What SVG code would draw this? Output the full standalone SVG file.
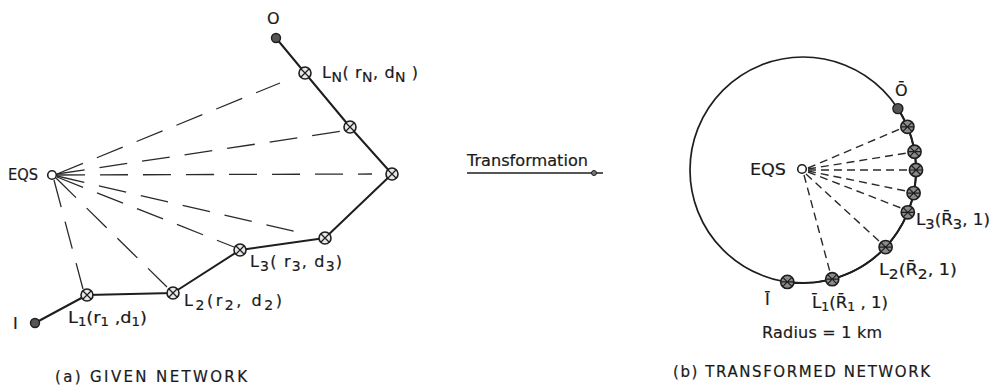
<svg xmlns="http://www.w3.org/2000/svg" width="992" height="386" viewBox="0 0 992 386">
  <style>
    text { font-family: "DejaVu Sans", "Liberation Sans", sans-serif; fill: #1a1a1a; stroke: #1a1a1a; stroke-width: 0.2; }
    .lbl { font-size: 16px; }
    .cap { font-size: 15px; }
    .net { fill: none; stroke: #1e1e1e; stroke-width: 2; stroke-linejoin: round; }
    .ray { fill: none; stroke: #2a2a2a; stroke-width: 1.3; stroke-dasharray: 28 15; }
    .rayb { fill: none; stroke: #2a2a2a; stroke-width: 1.4; stroke-dasharray: 8 5; }
    .circ { fill: none; stroke: #1e1e1e; stroke-width: 1.7; }
    .eqs { fill: #fff; stroke: #1e1e1e; stroke-width: 1.6; }
    .term { fill: #555; stroke: #1e1e1e; stroke-width: 1.4; }
    .x { stroke: #1e1e1e; stroke-width: 1.2; }
  </style>
  <defs>
    <g id="loc">
      <circle r="6" fill="#e8e8e8" stroke="#1e1e1e" stroke-width="1.6"/>
      <path class="x" d="M-4,-4 L4,4 M-4,4 L4,-4"/>
    </g>
    <g id="locb">
      <circle r="6.6" fill="#8a8a8a" stroke="#1e1e1e" stroke-width="1.6"/>
      <path class="x" d="M-4.5,-4.5 L4.5,4.5 M-4.5,4.5 L4.5,-4.5 M-6,0 L6,0"/>
    </g>
  </defs>

  <!-- ===== (a) given network ===== -->
  <g id="rays-a">
    <line class="ray" x1="57" y1="174" x2="280" y2="83"/>
    <line class="ray" x1="57" y1="174" x2="343" y2="131"/>
    <line class="ray" x1="57" y1="175" x2="372" y2="174"/>
    <line class="ray" x1="57" y1="176" x2="297" y2="232"/>
    <line class="ray" x1="57" y1="177" x2="234" y2="247"/>
    <line class="ray" x1="56" y1="178" x2="167" y2="287"/>
    <line class="ray" x1="54" y1="180" x2="83" y2="289"/>
  </g>
  <g id="links-a">
    <polyline class="net" points="35,323 87,295 173,293 240,250 325,238 392,174 350,127 305,73 276,38"/>
  </g>

  <g id="node-I">
    <circle class="term" cx="35" cy="323" r="4.5"/>
    <text class="lbl" x="13" y="329">I</text>
  </g>
  <g id="node-L1">
    <use href="#loc" x="87" y="295"/>
    <text class="lbl" x="68" y="323" textLength="79" lengthAdjust="spacingAndGlyphs">L<tspan dy="3" font-size="12">1</tspan><tspan dy="-3">(r</tspan><tspan dy="3" font-size="12">1</tspan><tspan dy="-3"> ,d</tspan><tspan dy="3" font-size="12">1</tspan><tspan dy="-3">)</tspan></text>
  </g>
  <g id="node-L2">
    <use href="#loc" x="173" y="293"/>
    <text class="lbl" x="184" y="306" textLength="98" lengthAdjust="spacing">L<tspan dy="4" font-size="14">2</tspan><tspan dy="-4">(r</tspan><tspan dy="4" font-size="14">2</tspan><tspan dy="-4">, d</tspan><tspan dy="4" font-size="14">2</tspan><tspan dy="-4">)</tspan></text>
  </g>
  <g id="node-L3">
    <use href="#loc" x="240" y="250"/>
    <text class="lbl" x="250" y="267" textLength="92" lengthAdjust="spacing">L<tspan dy="4" font-size="14">3</tspan><tspan dy="-4">( r</tspan><tspan dy="4" font-size="14">3</tspan><tspan dy="-4">, d</tspan><tspan dy="4" font-size="14">3</tspan><tspan dy="-4">)</tspan></text>
  </g>
  <g id="node-L4">
    <use href="#loc" x="325" y="238"/>
  </g>
  <g id="node-L5">
    <use href="#loc" x="392" y="174"/>
  </g>
  <g id="node-L6">
    <use href="#loc" x="350" y="127"/>
  </g>
  <g id="node-LN">
    <use href="#loc" x="305" y="73"/>
    <text class="lbl" x="322" y="78" textLength="96" lengthAdjust="spacing">L<tspan dy="4" font-size="14">N</tspan><tspan dy="-4">( r</tspan><tspan dy="4" font-size="14">N</tspan><tspan dy="-4">, d</tspan><tspan dy="4" font-size="14">N</tspan><tspan dy="-4"> )</tspan></text>
  </g>
  <g id="node-O">
    <circle class="term" cx="276" cy="38" r="4.5"/>
    <text class="lbl" x="267" y="24">O</text>
  </g>
  <g id="node-EQS-a">
    <circle class="eqs" cx="52" cy="175" r="4.3"/>
    <text class="lbl" x="8" y="180" textLength="30" lengthAdjust="spacingAndGlyphs">EQS</text>
  </g>
  <text class="cap" x="55" y="382" textLength="192" lengthAdjust="spacing">(a) GIVEN  NETWORK</text>

  <!-- ===== transformation arrow ===== -->
  <g id="transform">
    <text class="lbl" x="467" y="166" textLength="121" lengthAdjust="spacingAndGlyphs">Transformation</text>
    <line x1="467" y1="173" x2="603" y2="173" stroke="#1e1e1e" stroke-width="1.6"/>
    <circle cx="594" cy="173" r="2.5" fill="#777" stroke="#1e1e1e" stroke-width="1"/>
  </g>

  <!-- ===== (b) transformed network: unit circle, radius 113 ===== -->
  <g id="circle-b">
    <circle class="circ" cx="803" cy="170" r="113"/>
  </g>
  <g id="rays-b">
    <line class="rayb" x1="808" y1="168" x2="900" y2="129"/>
    <line class="rayb" x1="808" y1="169" x2="907" y2="153"/>
    <line class="rayb" x1="808" y1="170" x2="908" y2="170"/>
    <line class="rayb" x1="808" y1="171" x2="906" y2="191"/>
    <line class="rayb" x1="808" y1="172" x2="901" y2="208"/>
    <line class="rayb" x1="806" y1="174" x2="879" y2="241"/>
    <line class="rayb" x1="804" y1="175" x2="830" y2="272"/>
  </g>
  <g id="links-b">
    <path class="net" d="M787.3,281.9 A113,113 0 0 0 897.9,108.6"/>
  </g>

  <g id="node-Ib">
    <use href="#locb" x="787.3" y="281.9"/>
    <text class="lbl" x="765" y="305">Ī</text>
  </g>
  <g id="node-L1b">
    <use href="#locb" x="832.2" y="279.2"/>
    <text class="lbl" x="812" y="308" textLength="76" lengthAdjust="spacingAndGlyphs">L̄<tspan dy="3" font-size="12">1</tspan><tspan dy="-3">(R̄</tspan><tspan dy="3" font-size="12">1</tspan><tspan dy="-3"> , 1)</tspan></text>
  </g>
  <g id="node-L2b">
    <use href="#locb" x="885.6" y="247.1"/>
    <text class="lbl" x="879" y="275" textLength="78" lengthAdjust="spacingAndGlyphs">L<tspan dy="4" font-size="14">2</tspan><tspan dy="-4">(R̄</tspan><tspan dy="4" font-size="14">2</tspan><tspan dy="-4">, 1)</tspan></text>
  </g>
  <g id="node-L3b">
    <use href="#locb" x="907.8" y="212.3"/>
    <text class="lbl" x="916" y="225" textLength="74" lengthAdjust="spacingAndGlyphs">L<tspan dy="4" font-size="14">3</tspan><tspan dy="-4">(R̄</tspan><tspan dy="4" font-size="14">3</tspan><tspan dy="-4">, 1)</tspan></text>
  </g>
  <g id="node-L4b">
    <use href="#locb" x="913.6" y="193.1"/>
  </g>
  <g id="node-L5b">
    <use href="#locb" x="916" y="170"/>
  </g>
  <g id="node-L6b">
    <use href="#locb" x="914.5" y="151.7"/>
  </g>
  <g id="node-LNb">
    <use href="#locb" x="907.4" y="126.8"/>
  </g>
  <g id="node-Ob">
    <circle cx="897.9" cy="108.6" r="5" fill="#555" stroke="#1e1e1e" stroke-width="1.4"/>
    <text class="lbl" x="895" y="96">Ō</text>
  </g>
  <g id="node-EQS-b">
    <circle class="eqs" cx="802" cy="169" r="4.3"/>
    <text class="lbl" x="750" y="175" textLength="36" lengthAdjust="spacingAndGlyphs">EQS</text>
  </g>
  <text class="lbl" x="762" y="338" textLength="120" lengthAdjust="spacing">Radius = 1 km</text>
  <text class="cap" x="673" y="377" textLength="257" lengthAdjust="spacing">(b) TRANSFORMED NETWORK</text>
</svg>
